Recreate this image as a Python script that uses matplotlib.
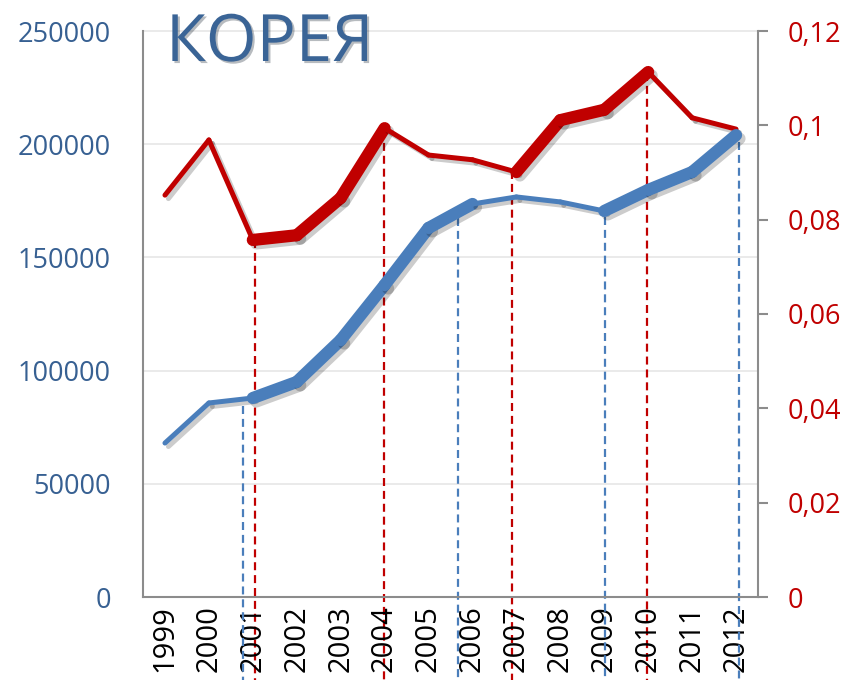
import matplotlib
matplotlib.use('Agg')
import matplotlib.pyplot as plt
import matplotlib.patheffects as pe
import numpy as np

plt.rcParams['font.family'] = ['Open Sans', 'DejaVu Sans']

# ---- data ----
years = [1999, 2000, 2001, 2002, 2003, 2004, 2005, 2006, 2007, 2008, 2009, 2010, 2011, 2012]
volume = [68000, 85700, 87900, 95000, 113500, 137800, 163000, 173600, 176700,
          174500, 170500, 179800, 187700, 204000]
share = [0.0852, 0.0969, 0.0757, 0.0767, 0.0846, 0.0994, 0.0937, 0.0927, 0.0901,
         0.1011, 0.1033, 0.1113, 0.1016, 0.0992]
left_ticks = [0, 50000, 100000, 150000, 200000, 250000]
right_ticks = [0, 0.02, 0.04, 0.06, 0.08, 0.10, 0.12]
right_labels = ['0', '0,02', '0,04', '0,06', '0,08', '0,1', '0,12']
title = 'КОРЕЯ'

# emphasised (thick) segments, by segment index
blue_thick = [0, 0, 1, 1, 1, 1, 1, 0, 0, 0, 1, 1, 1]
red_thick = [0, 0, 1, 1, 1, 0, 0, 0, 1, 1, 1, 0, 0]
# guide lines (fractional category positions)
blue_guides = [1.77, 6.68, 10.02, 13.07]
red_guides = [2.06, 4.98, 7.91, 10.98]

BLUE = '#4A7EBB'
RED = '#C00000'
AXBLUE = '#376092'
SPINE = '#8C8C8C'

fig = plt.figure(figsize=(8.47, 6.8), dpi=100)
ax = fig.add_axes([143/847, 1-597/680, (758-143)/847, (597-31)/680])
ax2 = ax.twinx()
ax.set_zorder(2)
ax.patch.set_visible(False)
ax2.set_zorder(1)

x = np.arange(len(years))
ax.set_xlim(-0.5, len(years)-0.5)
ax.set_ylim(0, 250000)
ax2.set_ylim(0, 0.12)

# gridlines (drawn on lower axes so red stays above)
for t in left_ticks[1:]:
    ax2.plot([0, 1], [t, t], transform=ax.get_yaxis_transform(), color='#E6E6E6',
             lw=1.2, zorder=0, clip_on=False)

shadow = [pe.SimpleLineShadow(offset=(2.5, -2.5), shadow_color='k', alpha=0.2), pe.Normal()]

def draw_series(axis, vals, thick, color):
    for i in range(len(vals)-1):
        lw = 8.8 if thick[i] else 3.6
        axis.plot(x[i:i+2], vals[i:i+2], color=color, lw=lw, solid_capstyle='round',
                  solid_joinstyle='round', path_effects=shadow, zorder=3)

draw_series(ax2, share, red_thick, RED)
draw_series(ax, volume, blue_thick, BLUE)

# dashed guides
for g in blue_guides:
    top = np.interp(g, x, volume) - 3000
    ax.plot([g, g], [top, -45000], color=BLUE, lw=1.6, ls=(0, (3.6, 2.2)),
            clip_on=False, zorder=2)
for g in red_guides:
    top = np.interp(g, x, share)
    ax2.plot([g, g], [top, -0.022], color=RED, lw=1.6, ls=(0, (3.6, 2.2)),
             clip_on=False, zorder=2)

# axes styling
ax.set_xticks(x)
ax.set_xticklabels([str(y) for y in years], rotation=90, fontsize=21, color='black')
ax.tick_params(axis='x', length=0, pad=6)
ax.set_yticks(left_ticks)
ax.set_yticklabels([str(t) for t in left_ticks], fontsize=19.5, color=AXBLUE)
ax.tick_params(axis='y', length=0, pad=23)

ax2.set_yticks(right_ticks)
ax2.set_yticklabels(right_labels, fontsize=19.5, color=RED)
ax2.tick_params(axis='y', length=7, width=1.5, color=SPINE, pad=14, direction='out')

for a in (ax, ax2):
    a.spines['top'].set_visible(False)
ax.spines['right'].set_visible(False)
ax2.spines['left'].set_visible(False)
ax2.spines['bottom'].set_visible(False)
ax.spines['left'].set_color(SPINE)
ax.spines['left'].set_linewidth(1.5)
ax.spines['bottom'].set_color(SPINE)
ax.spines['bottom'].set_linewidth(1.5)
ax2.spines['right'].set_color(SPINE)
ax2.spines['right'].set_linewidth(1.5)

fig.text(166/847, 1-61/680, title, fontsize=47, color='#3A6496', ha='left', va='baseline',
         path_effects=[pe.SimplePatchShadow(offset=(1.5, -1.5), alpha=0.3), pe.Normal()])

fig.savefig('out.png', dpi=100)
